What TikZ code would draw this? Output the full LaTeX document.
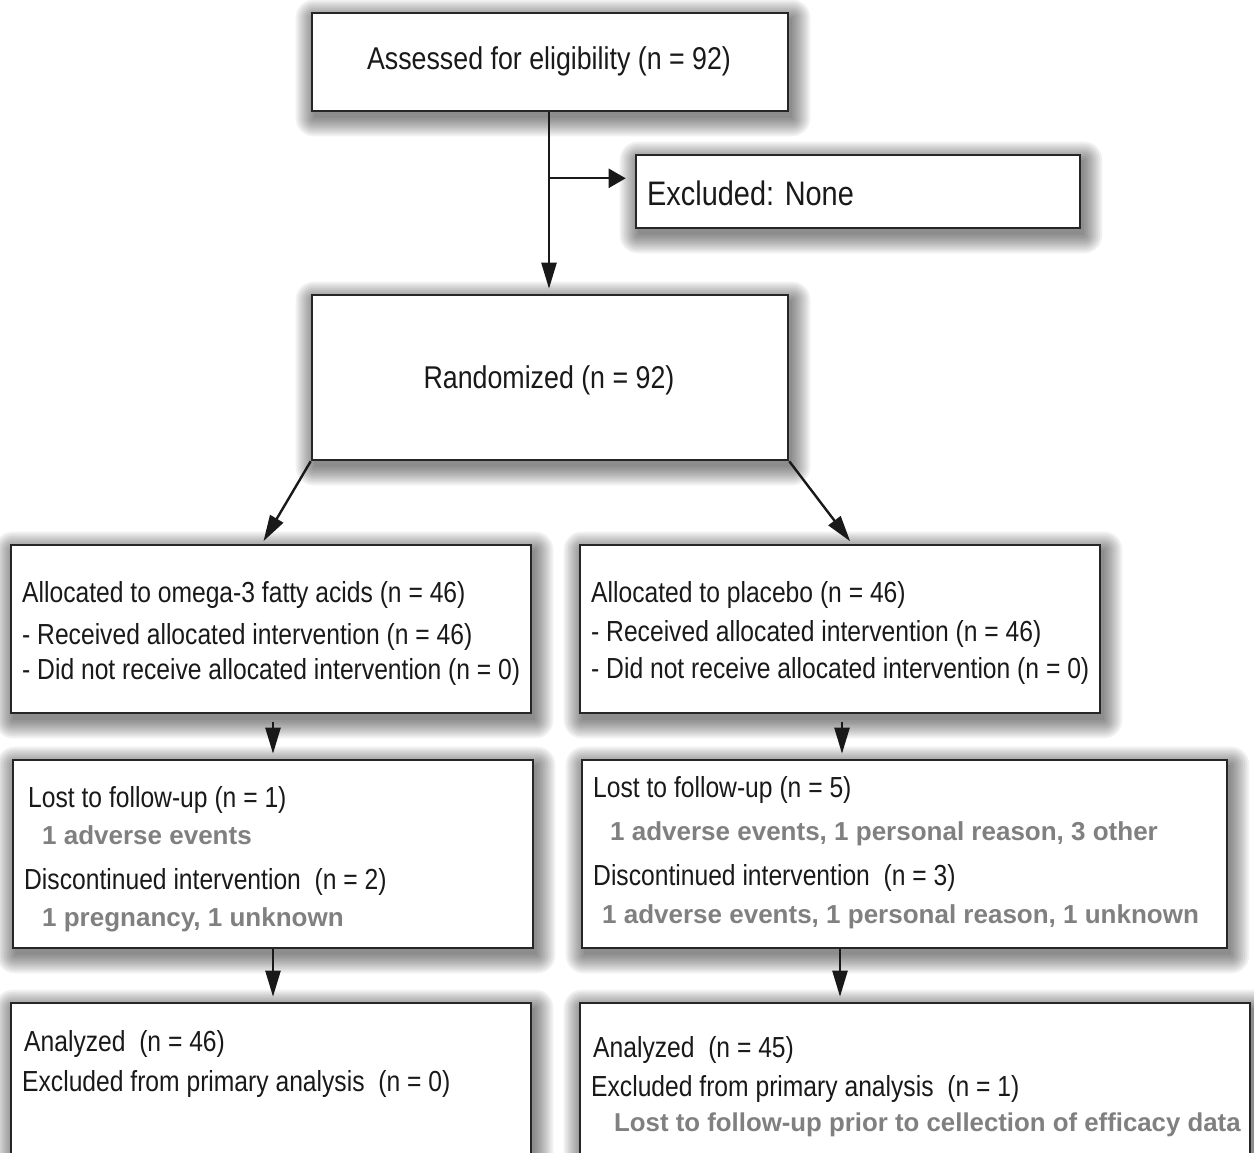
\documentclass[tikz,border=0pt]{standalone}
\usepackage{fontspec}
\setmainfont{Liberation Sans}[FakeStretch=0.85]
\newfontfamily\grayfont{Liberation Sans}
\usetikzlibrary{arrows.meta,calc}
\pgfdeclarelayer{bg}
\pgfdeclarelayer{shadowlayer}
\pgfsetlayers{bg,shadowlayer,main}
\begin{document}
\begin{tikzpicture}[x=1pt,y=-1pt,
  box/.style={draw=black!85, line width=2.6pt, fill=white, rectangle, inner sep=0pt},
  arr/.style={draw=black!90, line width=2.4pt, -{Triangle[length=26pt,width=15pt]}},
  harr/.style={draw=black!90, line width=2.4pt, -{Triangle[length=17pt,width=19pt]}},
  txt/.style={anchor=base west, inner sep=0pt, text=black!90, font=\fontsize{29}{34}\selectfont},
  gtxt/.style={anchor=base west, inner sep=0pt, text=black!50, font=\grayfont\bfseries\fontsize{26}{30}\selectfont},
  ttl/.style={anchor=base, inner sep=0pt, text=black!90, font=\fontsize{31.5}{36}\selectfont},
  shadowring/.style={fill=black, fill opacity=0.055}]
\clip (0,0) rectangle (1254,1153);
\begin{pgfonlayer}{bg}
\fill[white] (0,0) rectangle (1254,1153);
\end{pgfonlayer}

% boxes
\node[box, minimum width=476pt, minimum height=98pt]  (assess) at (550,62) {};
\node[box, minimum width=444pt, minimum height=73pt]  (excl)   at (858,191.5) {};
\node[box, minimum width=476pt, minimum height=165pt] (rand)   at (550,377.5) {};
\node[box, minimum width=520pt, minimum height=168pt] (alloc1) at (271,629) {};
\node[box, minimum width=520pt, minimum height=168pt] (alloc2) at (840,629) {};
\node[box, minimum width=520pt, minimum height=188pt] (lost1)  at (273,854) {};
\node[box, minimum width=645pt, minimum height=188pt] (lost2)  at (904.5,854) {};
\node[box, minimum width=520pt, minimum height=197pt] (ana1)   at (271,1101.5) {};
\node[box, minimum width=670pt, minimum height=197pt] (ana2)   at (915,1101.5) {};

% soft shadows
\begin{pgfonlayer}{shadowlayer}
\foreach \n in {assess,excl,rand,alloc1,alloc2,lost1,lost2,ana1,ana2}{
  \foreach \r in {0,2,...,18}{
    \fill[shadowring, rounded corners=\r pt]
      ($(\n.south west)+(3-\r,6+\r)$) rectangle ($(\n.north east)+(3+\r,6-\r)$);
  }
}
\end{pgfonlayer}

% texts
\node[ttl] (assessT) at (549,70) {Assessed for eligibility (n = 92)};
\node[txt, font=\fontsize{34}{38}\selectfont] (exclT) at (647,205) {Excluded: None};
\node[ttl] (randT) at (549,388) {Randomized (n = 92)};

\node[txt] (a1l1) at (22,602) {Allocated to omega-3 fatty acids (n = 46)};
\node[txt] (a1l2) at (22,644) {- Received allocated intervention (n = 46)};
\node[txt] (a1l3) at (22,679) {- Did not receive allocated intervention (n = 0)};

\node[txt] (a2l1) at (591,602) {Allocated to placebo (n = 46)};
\node[txt] (a2l2) at (591,641) {- Received allocated intervention (n = 46)};
\node[txt] (a2l3) at (591,678) {- Did not receive allocated intervention (n = 0)};

\node[txt]  (l1l1) at (28,807) {Lost to follow-up (n = 1)};
\node[gtxt] (l1l2) at (42,844) {1 adverse events};
\node[txt]  (l1l3) at (24,889) {Discontinued intervention\ \ (n = 2)};
\node[gtxt] (l1l4) at (42,926) {1 pregnancy, 1 unknown};

\node[txt]  (l2l1) at (593,797) {Lost to follow-up (n = 5)};
\node[gtxt] (l2l2) at (610,840) {1 adverse events, 1 personal reason, 3 other};
\node[txt]  (l2l3) at (593,885) {Discontinued intervention\ \ (n = 3)};
\node[gtxt] (l2l4) at (602,923) {1 adverse events, 1 personal reason, 1 unknown};

\node[txt] (n1l1) at (24,1051) {Analyzed\ \ (n = 46)};
\node[txt] (n1l2) at (22,1091) {Excluded from primary analysis\ \ (n = 0)};

\node[txt]  (n2l1) at (593,1057) {Analyzed\ \ (n = 45)};
\node[txt]  (n2l2) at (591,1096) {Excluded from primary analysis\ \ (n = 1)};
\node[gtxt, font=\grayfont\bfseries\fontsize{25.8}{30}\selectfont] (n2l3) at (614,1131) {Lost to follow-up prior to cellection of efficacy data};

% connectors
\draw[arr, shorten >=5pt] ([xshift=-1pt]assess.south) -- ([xshift=-1pt]rand.north);
\path ([xshift=-1pt]assess.south) ++(0,66) coordinate (br);
\draw[harr, shorten >=9pt] (br) -- (br -| excl.west);
\draw[arr, shorten >=3pt] (rand.south west) -- ([xshift=-9pt]alloc1.north);
\draw[arr, shorten >=3pt] (rand.south east) -- ([xshift=12pt]alloc2.north);
\draw[arr, shorten <=8pt, shorten >=5pt] (alloc1.south -| lost1.north) -- (lost1.north);
\draw[arr, shorten <=8pt, shorten >=5pt] ([xshift=2pt]alloc2.south) -- ([xshift=2pt]alloc2.south |- lost2.north);
\draw[arr, shorten >=5pt] (lost1.south) -- (lost1.south |- ana1.north);
\draw[arr, shorten >=5pt] (lost2.south -| alloc2.south) -- (ana2.north -| alloc2.south);
\end{tikzpicture}
\end{document}
